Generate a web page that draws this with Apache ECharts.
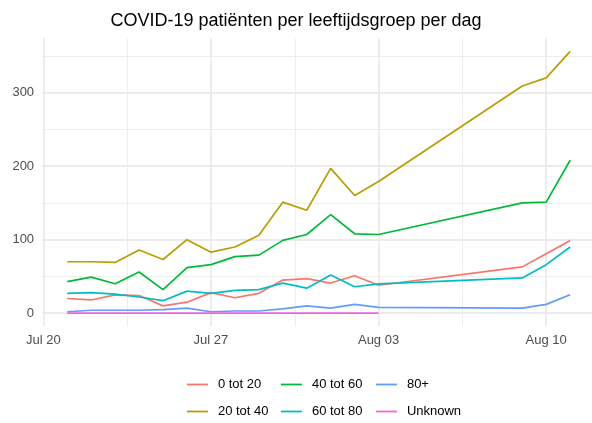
<!DOCTYPE html>
<html>
<head>
<meta charset="utf-8">
<script src="https://cdn.jsdelivr.net/npm/echarts@6/dist/echarts.min.js"></script>
<style>
  html, body { margin: 0; padding: 0; background: #fff; }
  #chart { width: 592px; height: 423px; }
</style>
</head>
<body>
<div id="chart"></div>
<script>
// dagen met data
const dates = ['2020-07-21', '2020-07-22', '2020-07-23', '2020-07-24', '2020-07-25', '2020-07-26', '2020-07-27',
  '2020-07-28', '2020-07-29', '2020-07-30', '2020-07-31', '2020-08-01', '2020-08-02', '2020-08-03',
  '2020-08-09', '2020-08-10', '2020-08-11'];

const groups = ['0 tot 20', '20 tot 40', '40 tot 60', '60 tot 80', '80+', 'Unknown'];
const colors = ['#F8766D', '#B79F00', '#00BA38', '#00BFC4', '#619CFF', '#F564E3'];

const age0to20 = [20, 18, 25, 24, 10, 15, 28, 21, 27, 45, 47, 41, 51, 38, 63, 81, 99];
const age20to40 = [70, 70, 69, 86, 73, 100, 83, 90, 106, 151, 140, 197, 160, 179, 309, 320, 356];
const age40to60 = [43, 49, 40, 56, 32, 62, 66, 77, 79, 99, 107, 134, 108, 107, 150, 151, 208];
const age60to80 = [27, 28, 26, 22, 17, 30, 27, 31, 32, 41, 34, 52, 36, 40, 48, 66, 90];
const age80plus = [2, 4, 4, 4, 5, 7, 2, 3, 3, 6, 10, 7, 12, 8, 7, 12, 25];
const unknown = [0, 0, 0, 0, 0, 0, 0, 0, 0, 0, 0, 0, 0, 0, null, null, null];

// as-labels
const xMajor = ['2020-07-20', '2020-07-27', '2020-08-03', '2020-08-10'];
const xMinor = ['2020-07-23T12:00:00Z', '2020-07-30T12:00:00Z', '2020-08-06T12:00:00Z'];
const yMajor = [0, 100, 200, 300];
const yMinor = [50, 150, 250, 350];

const months = ['Jan', 'Feb', 'Mar', 'Apr', 'May', 'Jun', 'Jul', 'Aug', 'Sep', 'Oct', 'Nov', 'Dec'];
const DAY = 86400000;
// x als dagnummer (UTC), zo speelt de tijdzone geen rol
const dayNo = d => Date.parse(d) / DAY;

const values = [age0to20, age20to40, age40to60, age60to80, age80plus, unknown];

// ggplot-achtige marge van 5%
const tMin = dayNo(dates[0]), tMax = dayNo(dates[dates.length - 1]);
const xPad = (tMax - tMin) * 0.05;
const allVals = [].concat(...values).filter(v => v != null);
const vMax = Math.max(...allVals), vMin = Math.min(...allVals);
const yPad = (vMax - vMin) * 0.05;

const chart = echarts.init(document.getElementById('chart'), null, { renderer: 'canvas' });

const fontFam = '"Liberation Sans", Arial, Helvetica, sans-serif';

// legenda staat in kolommen, dus elk item apart plaatsen
const legendPos = [
  [186, 378], [186, 405], [280, 378], [280, 405], [375, 378], [375, 405]
];

chart.setOption({
  animation: false,
  title: {
    text: 'COVID-19 patiënten per leeftijdsgroep per dag',
    left: 'center',
    top: 7,
    textStyle: { fontFamily: fontFam, fontSize: 18, fontWeight: 'normal', color: '#000' }
  },
  legend: groups.map((g, i) => ({
    data: [g],
    left: legendPos[i][0],
    top: legendPos[i][1],
    padding: 0,
    itemWidth: 21,
    itemHeight: 14,
    itemStyle: { opacity: 0 },
    lineStyle: { width: 1.8 },
    textStyle: { fontFamily: fontFam, fontSize: 13, color: '#000', padding: [0, 0, 0, 5] }
  })),
  grid: {
    left: 42.1,
    top: 38.3,
    width: 553.2,
    height: 288,
    containLabel: false,
    outerBoundsMode: 'none'
  },
  xAxis: [
    {
      type: 'value',
      min: tMin - xPad,
      max: tMax + xPad,
      axisLine: { show: false },
      axisTick: { show: false, customValues: xMajor.map(dayNo) },
      axisLabel: {
        customValues: xMajor.map(dayNo),
        margin: 8,
        fontFamily: fontFam,
        fontSize: 13,
        color: '#4d4d4d',
        formatter: v => {
          const d = new Date(Math.round(v * DAY));
          return months[d.getUTCMonth()] + ' ' + String(d.getUTCDate()).padStart(2, '0');
        }
      },
      splitLine: { show: true, lineStyle: { color: '#ebebeb', width: 1.8 } }
    },
    {
      type: 'value',
      min: tMin - xPad,
      max: tMax + xPad,
      axisLine: { show: false },
      axisTick: { show: false, customValues: xMinor.map(dayNo) },
      axisLabel: { show: false },
      splitLine: { show: true, lineStyle: { color: '#eeeeee', width: 1 } }
    }
  ],
  yAxis: [
    {
      type: 'value',
      min: vMin - yPad,
      max: vMax + yPad,
      axisLine: { show: false },
      axisTick: { show: false, customValues: yMajor },
      axisLabel: {
        customValues: yMajor,
        margin: 8,
        fontFamily: fontFam,
        fontSize: 13,
        color: '#4d4d4d'
      },
      splitLine: { show: true, lineStyle: { color: '#ebebeb', width: 1.8 } }
    },
    {
      type: 'value',
      min: vMin - yPad,
      max: vMax + yPad,
      axisLine: { show: false },
      axisTick: { show: false, customValues: yMinor },
      axisLabel: { show: false },
      splitLine: { show: true, lineStyle: { color: '#eeeeee', width: 1 } }
    }
  ],
  series: groups.map((g, i) => ({
    name: g,
    type: 'line',
    xAxisIndex: 0,
    yAxisIndex: 0,
    symbol: 'none',
    showSymbol: false,
    connectNulls: false,
    color: colors[i],
    lineStyle: { width: 1.7, color: colors[i] },
    data: dates.map((d, j) => [dayNo(d), values[i][j]])
  }))
});
</script>
</body>
</html>
